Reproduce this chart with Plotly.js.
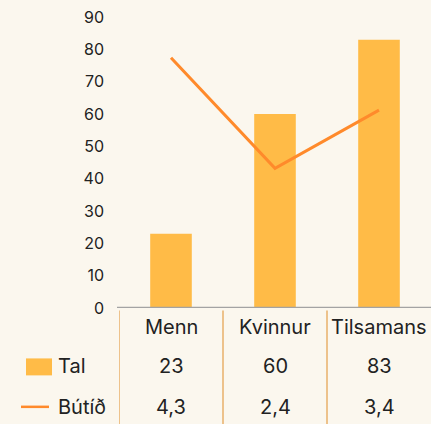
<!DOCTYPE html>
<html><head><meta charset="utf-8">
<script src="https://cdn.plot.ly/plotly-3.0.1.min.js"></script>
<style>html,body{margin:0;padding:0;background:#fbf7ee;}#chart{width:431px;height:424px;}</style>
</head><body><div id="chart"></div>
<script>
const categories = ["Menn", "Kvinnur", "Tilsamans"];
const tal = [23, 60, 83];
const butid = [4.3, 2.4, 3.4];
const seriesNames = ["Tal", "Bútíð"];
const yTicks = [0, 10, 20, 30, 40, 50, 60, 70, 80, 90];

const W = 431, H = 424;
const L = 119, R = 0, T = 17, B = 115.5;
const pw = W - L - R, ph = H - T - B;
const px = x => (x - L) / pw;
const py = y => (H - B - y) / ph;
const FONT = "Inter, Lato, sans-serif";
const TXT = "#222222";
const BAR = "#ffbb47";
const LINE = "#ff8a2b";
const SEP = "#e9b06a";
const FS = 20;

const fmt = v => String(v).replace(".", ",");

const traces = [
  {type: "bar", x: categories, y: tal, name: seriesNames[0], marker: {color: BAR}, width: 0.4, hoverinfo: "none"},
  {type: "scatter", mode: "lines", x: categories, y: butid, name: seriesNames[1], yaxis: "y2",
   line: {color: LINE, width: 3}, hoverinfo: "none"}
];

const shapes = [];
const annotations = [];
shapes.push({type: "line", xref: "paper", yref: "y", x0: px(117), x1: 1, y0: 0, y1: 0,
  line: {color: "#a3a3a3", width: 2.5}});
for (let i = 0; i < categories.length; i++) {
  shapes.push({type: "line", xref: "x", yref: "paper", x0: i - 0.5, x1: i - 0.5,
    y0: py(311), y1: py(426), line: {color: SEP, width: 1.5}});
  annotations.push({xref: "x", yref: "paper", x: categories[i], y: py(328), text: categories[i],
    showarrow: false, xanchor: "center", yanchor: "middle", font: {family: FONT, size: FS, color: TXT}});
  annotations.push({xref: "x", yref: "paper", x: categories[i], y: py(367), text: fmt(tal[i]),
    showarrow: false, xanchor: "center", yanchor: "middle", font: {family: FONT, size: FS, color: TXT}});
  annotations.push({xref: "x", yref: "paper", x: categories[i], y: py(408), text: fmt(butid[i]),
    showarrow: false, xanchor: "center", yanchor: "middle", font: {family: FONT, size: FS, color: TXT}});
}
shapes.push({type: "rect", xref: "paper", yref: "paper", x0: px(26), x1: px(52), y0: py(359), y1: py(376),
  fillcolor: BAR, line: {width: 0}});
shapes.push({type: "line", xref: "paper", yref: "paper", x0: px(21), x1: px(49), y0: py(407.5), y1: py(407.5),
  line: {color: LINE, width: 2.5}});
annotations.push({xref: "paper", yref: "paper", x: px(56), y: py(367), text: seriesNames[0], showarrow: false,
  xanchor: "left", yanchor: "middle", font: {family: FONT, size: FS, color: TXT}});
annotations.push({xref: "paper", yref: "paper", x: px(56), y: py(408), text: seriesNames[1], showarrow: false,
  xanchor: "left", yanchor: "middle", font: {family: FONT, size: FS, color: TXT}});

const layout = {
  width: W, height: H,
  margin: {l: L, r: R, t: T, b: B, pad: 0},
  paper_bgcolor: "#fbf7ee", plot_bgcolor: "#fbf7ee",
  showlegend: false,
  xaxis: {type: "category", range: [-0.5, 2.5], showticklabels: false, showgrid: false, zeroline: false,
    showline: false, ticks: ""},
  yaxis: {range: [0, 90], tickvals: yTicks, ticktext: yTicks.map(String), showgrid: false, zeroline: false,
    showline: false, ticks: "", ticklabelstandoff: 14,
    tickfont: {family: FONT, size: 16, color: TXT}},
  yaxis2: {range: [0, 5], overlaying: "y", side: "right", visible: false},
  shapes: shapes,
  annotations: annotations
};
Plotly.newPlot("chart", traces, layout, {staticPlot: true, displayModeBar: false});
</script></body></html>
